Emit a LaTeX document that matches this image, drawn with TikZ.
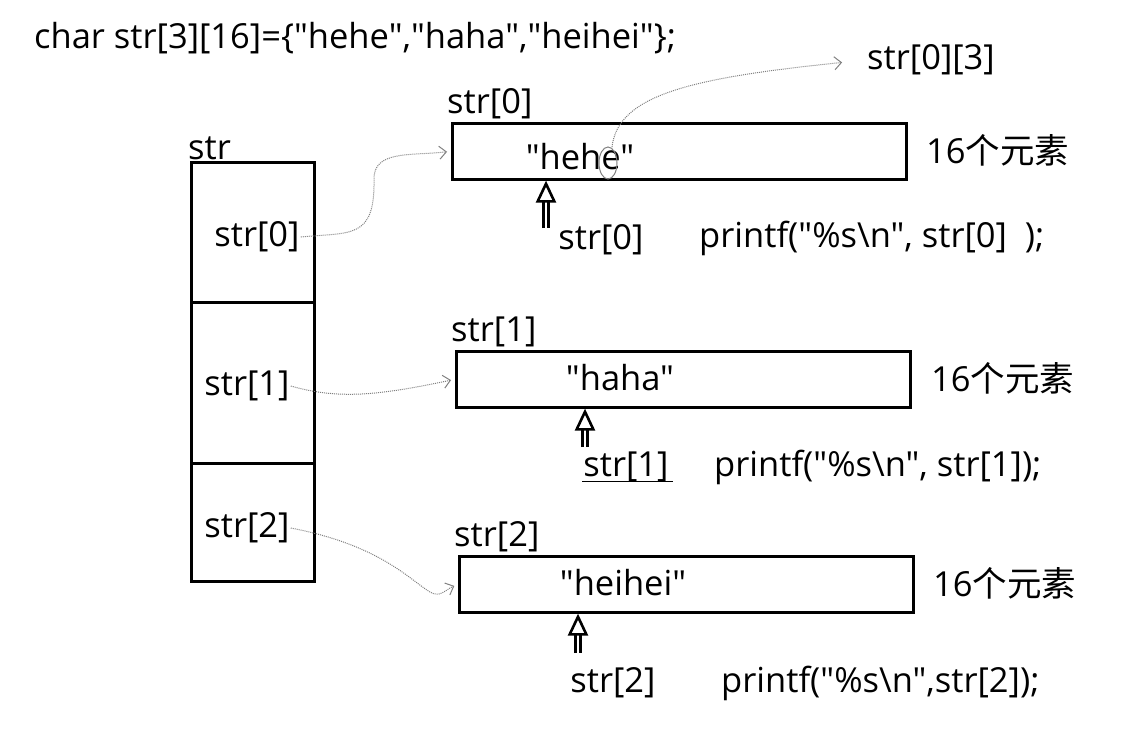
\documentclass[tikz,border=0pt]{standalone}
\usepackage{fontspec}
\setmainfont{Open Sans}[Ligatures=TeXOff]
\newfontfamily\cjk{Noto Sans CJK SC}
\usetikzlibrary{arrows.meta}

\tikzset{
  row/.style={draw, line width=2.6pt, minimum width=454pt, minimum height=56pt, inner sep=0pt, anchor=north west},
  cellbox/.style={draw, line width=2.6pt, minimum width=123pt, inner sep=0pt, anchor=north west},
  link/.style={gray, densely dotted, line width=1pt, shorten >=4pt, -{Straight Barb[length=7pt, width=13pt]}},
  ptr/.style={line width=2.6pt, double distance=2.4pt, -{Triangle[open, length=22pt, width=20pt]}},
  lab/.style={inner sep=1pt}
}

\begin{document}
\begin{tikzpicture}[x=1pt, y=-1pt, font=\fontsize{34.5}{40}\selectfont]
  \useasboundingbox (0,0) rectangle (1124,753);

  \node[lab, anchor=west] (title) at (33,38) {char str[3][16]=\{"hehe","haha","heihei"\};};

  \node[cellbox, minimum height=140pt] (c0) at (190,161) {};
  \node[cellbox, minimum height=161pt] (c1) at (190,301) {};
  \node[cellbox, minimum height=118pt] (c2) at (190,462) {};
  \node[lab, anchor=south west] (str) at ([xshift=-3pt]c0.north west) {str};
  \node[lab] (a0) at (257,237) {str[0]};
  \node[lab] (a1) at (247,386) {str[1]};
  \node[lab] (a2) at (247,528) {str[2]};

  \node[row] (row0) at (451,122) {};
  \node[row] (row1) at (455,350) {};
  \node[row] (row2) at (458,555) {};
  \node[lab, anchor=south west] (r0) at ([xshift=-5pt, yshift=2pt]row0.north west) {str[0]};
  \node[lab, anchor=south west] (r1) at ([xshift=-5pt, yshift=2pt]row1.north west) {str[1]};
  \node[lab, anchor=south west] (r2) at ([xshift=-5pt, yshift=2pt]row2.north west) {str[2]};
  \node[lab] (t0) at (580,157) {"hehe"};
  \node[lab] (t1) at (620,378) {"haha"};
  \node[lab] (t2) at (623,583) {"heihei"};
  \node[lab, anchor=west] (n0) at (925,150) {16{\cjk 个元素}};
  \node[lab, anchor=west] (n1) at (930,378) {16{\cjk 个元素}};
  \node[lab, anchor=west] (n2) at (932,583) {16{\cjk 个元素}};

  \node[lab] (p0) at (601,240) {str[0]};
  \node[lab] (p1) at (626,467) {str[1]};
  \node[lab] (p2) at (613,683) {str[2]};
  \node[lab, anchor=west] (f0) at (698,238) {printf("\%s\textbackslash n", str[0]~~);};
  \node[lab, anchor=west] (f1) at (713,467) {printf("\%s\textbackslash n", str[1]);};
  \node[lab, anchor=west] (f2) at (720,683) {printf("\%s\textbackslash n",str[2]);};
  \draw[line width=1.5pt] ([yshift=2pt]p1.south west) -- ([xshift=3pt, yshift=2pt]p1.south east);

  \coordinate (u0) at (546,228);
  \coordinate (u1) at (585,447);
  \coordinate (u2) at (578,653);
  \draw[ptr] (u0) -- (u0 |- row0.south);
  \draw[ptr] (u1) -- (u1 |- row1.south);
  \draw[ptr] (u2) -- (u2 |- row2.south);

  \draw[link] (a0.east) .. controls (350,232) and (375,240) .. (374,180) .. controls (373,150) and (410,156) .. (row0.west);
  \draw[link] (a1.east) .. controls (340,400) and (380,395) .. (row1.west);
  \draw[link] (a2.east) .. controls (380,545) and (410,580) .. (430,592) .. controls (440,598) and (445,590) .. (row2.west);

  \node[lab] (e3) at (931,60) {str[0][3]};
  \draw[gray, line width=1pt] (608,163) ellipse (9pt and 16pt);
  \draw[link, shorten >=24pt] (612,147) .. controls (618,95) and (690,78) .. (e3.west);
\end{tikzpicture}
\end{document}
